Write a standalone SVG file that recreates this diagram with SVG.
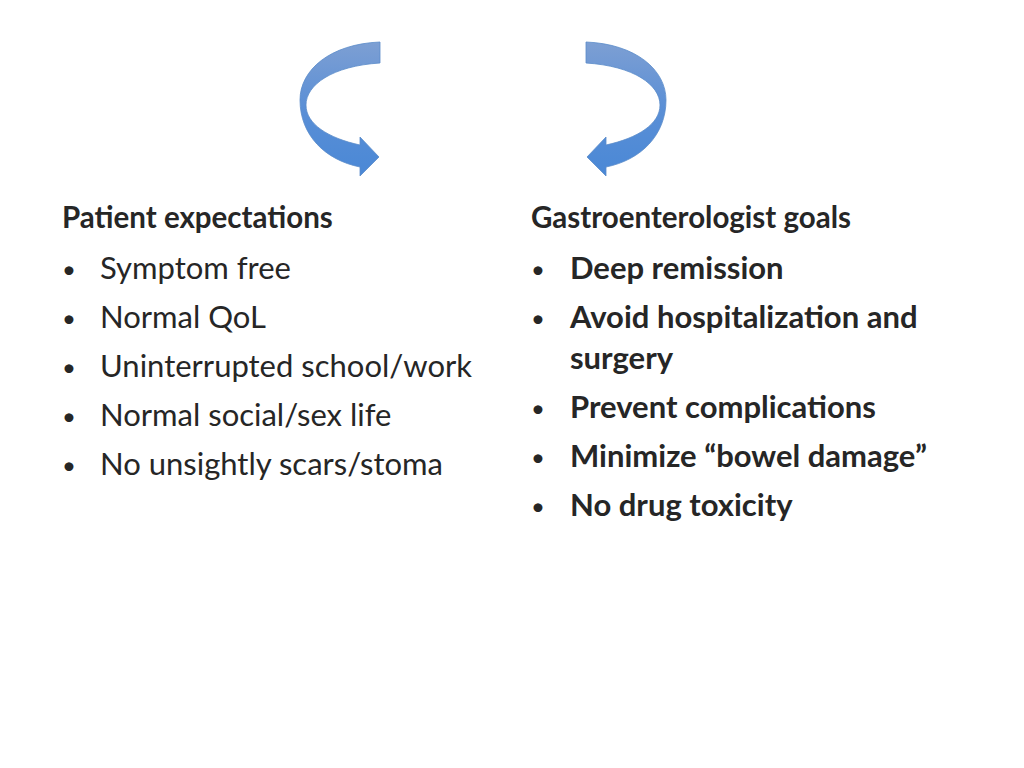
<svg xmlns="http://www.w3.org/2000/svg" width="1024" height="768" viewBox="0 0 1024 768">
<style>
text{font-family:Lato,"Liberation Sans",sans-serif;font-size:31px;fill:#262626}
.b{font-weight:bold}
.h{font-weight:bold;font-size:29.5px}
.d{font-size:24px}
.arr{fill:url(#g);stroke:#5b8bc9;stroke-width:0.8}
</style>
<defs>
<linearGradient id="g" x1="0" y1="0" x2="0" y2="1">
<stop offset="0" stop-color="#7d9fd3"/><stop offset="0.5" stop-color="#5a8fd6"/><stop offset="1" stop-color="#4a88d6"/>
</linearGradient>
<path id="a" d="M380,42 C330,44 300,70 300,100 C300,135 325,160 360,167 L360,176 L379,157 L360,137 L360,145 C328,138 306,124 306,105 C306,85 332,66 380,63 Z"/>
</defs>
<rect width="1024" height="768" fill="#fff"/>
<g id="connectors">
<use href="#a" class="arr"/>
<use href="#a" class="arr" transform="translate(966,0) scale(-1,1)"/>
</g>
<g id="left">
<text x="62" y="228" class="h">Patient expectations</text>
<text x="62" y="278" class="d">•</text><text x="100" y="279">Symptom free</text>
<text x="62" y="327" class="d">•</text><text x="100" y="328">Normal QoL</text>
<text x="62" y="376" class="d">•</text><text x="100" y="377">Uninterrupted school/work</text>
<text x="62" y="425" class="d">•</text><text x="100" y="426">Normal social/sex life</text>
<text x="62" y="474" class="d">•</text><text x="100" y="475">No unsightly scars/stoma</text>
</g>
<g id="right">
<text x="531" y="228" class="h">Gastroenterologist goals</text>
<text x="531" y="278" class="d">•</text><text x="570" y="279" class="b">Deep remission</text>
<text x="531" y="327" class="d">•</text><text x="570" y="328" class="b">Avoid hospitalization and</text>
<text x="570" y="369" class="b">surgery</text>
<text x="531" y="417" class="d">•</text><text x="570" y="418" class="b">Prevent complications</text>
<text x="531" y="466" class="d">•</text><text x="570" y="467" class="b">Minimize “bowel damage”</text>
<text x="531" y="515" class="d">•</text><text x="570" y="516" class="b">No drug toxicity</text>
</g>
</svg>
